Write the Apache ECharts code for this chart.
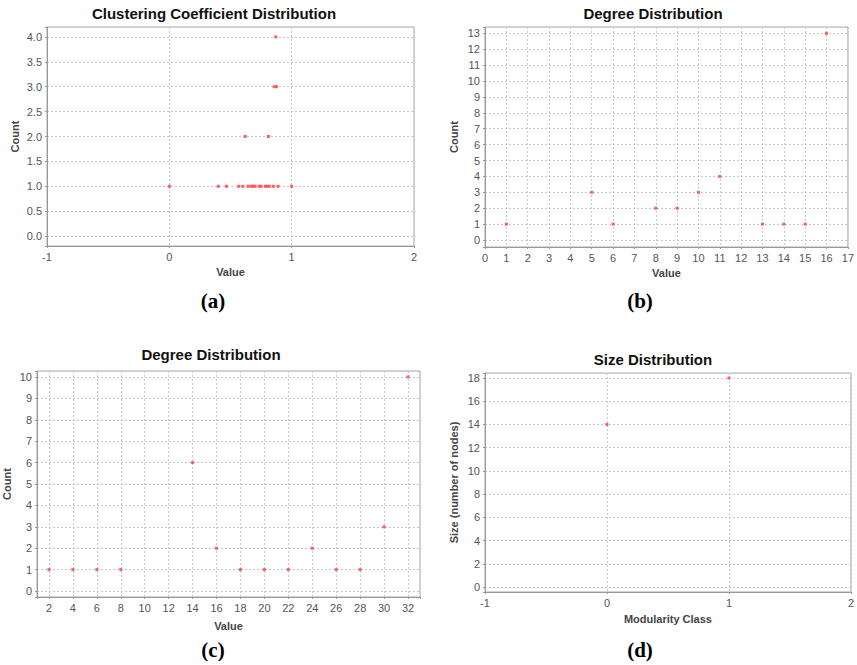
<!DOCTYPE html>
<html>
<head>
<meta charset="utf-8">
<script src="https://cdn.jsdelivr.net/npm/echarts@6/dist/echarts.min.js"></script>
<style>
  html, body { margin: 0; background: #fff; }
  #chart { width: 857px; height: 665px; }
</style>
</head>
<body>
<div id="chart"></div>
<script>
// (a) clustering coefficient distribution
const ccValues = [0, 0.40, 0.467, 0.567, 0.60, 0.643, 0.667, 0.683, 0.70, 0.733, 0.75, 0.786, 0.80, 0.818, 0.85, 0.889, 1.0,
  0.62, 0.81, 0.857, 0.875, 0.87]
const ccCounts = [1, 1, 1, 1, 1, 1, 1, 1, 1, 1, 1, 1, 1, 1, 1, 1, 1,
  2, 2, 3, 3, 4]
const ccValueTicks = ['-1', '0', '1', '2']
const ccCountTicks = ['0.0', '0.5', '1.0', '1.5', '2.0', '2.5', '3.0', '3.5', '4.0']

// (b) degree distribution
const degBValues = [1, 5, 6, 8, 9, 10, 11, 13, 14, 15, 16]
const degBCounts = [1, 3, 1, 2, 2, 3, 4, 1, 1, 1, 13]
const degBValueTicks = ['0', '1', '2', '3', '4', '5', '6', '7', '8', '9', '10', '11', '12', '13', '14', '15', '16', '17']
const degBCountTicks = ['0', '1', '2', '3', '4', '5', '6', '7', '8', '9', '10', '11', '12', '13']

// (c) degree distribution
const degCValues = [2, 4, 6, 8, 14, 16, 18, 20, 22, 24, 26, 28, 30, 32]
const degCCounts = [1, 1, 1, 1, 6, 2, 1, 1, 1, 2, 1, 1, 3, 10]
const degCValueTicks = ['2', '4', '6', '8', '10', '12', '14', '16', '18', '20', '22', '24', '26', '28', '30', '32']
const degCCountTicks = ['0', '1', '2', '3', '4', '5', '6', '7', '8', '9', '10']

// (d) size distribution
const modClasses = [0, 1]
const modSizes = [14, 18]
const modClassTicks = ['-1', '0', '1', '2']
const modSizeTicks = ['0', '2', '4', '6', '8', '10', '12', '14', '16', '18']

const chart = echarts.init(document.getElementById('chart'), null, { renderer: 'svg' })

const tickFont = 'Liberation Sans'
const axisColor = '#999'

const labelFrom = (ticks, digits) => (v) => {
  const s = digits ? v.toFixed(digits) : String(v)
  return ticks.includes(s) ? s : ''
}

const makeAxis = (gridIndex, o) => ({
  type: 'value',
  gridIndex,
  min: o.min,
  max: o.max,
  minInterval: o.step,
  maxInterval: o.step,
  splitNumber: o.splits,
  name: o.name,
  nameLocation: 'middle',
  nameGap: o.nameGap,
  nameTextStyle: { fontFamily: tickFont, fontSize: 11, fontWeight: 'bold', color: '#444' },
  axisLine: { show: true, onZero: false, lineStyle: { color: axisColor } },
  axisTick: { show: true, length: 2, lineStyle: { color: axisColor } },
  axisLabel: {
    fontFamily: tickFont, fontSize: 11, color: '#555', margin: 5,
    formatter: labelFrom(o.ticks, o.digits)
  },
  splitLine: { show: true, lineStyle: { color: '#c8c8c8', type: [2, 2], width: 1 } }
})

const makeGrid = (left, top, width, height) => ({
  left, top, width, height,
  show: true, borderColor: '#aaa', borderWidth: 1, backgroundColor: '#fff'
})

const dots = (xIndex, xs, ys) => ({
  type: 'scatter',
  xAxisIndex: xIndex,
  yAxisIndex: xIndex,
  symbol: 'rect',
  symbolSize: 3,
  itemStyle: { color: '#ff5050', opacity: 0.9 },
  data: xs.map((x, i) => [x, ys[i]])
})

const heading = (x, y, text) => ({
  type: 'text', x, y,
  style: { text, fontFamily: 'Liberation Sans', fontSize: 15, fontWeight: 'bold', fill: '#111', align: 'center', verticalAlign: 'middle' }
})

const panelTag = (x, y, text) => ({
  type: 'text', x, y,
  style: { text, fontFamily: 'Liberation Serif', fontSize: 21, fontWeight: 'bold', fill: '#000', align: 'center', verticalAlign: 'middle' }
})

const option = {
  animation: false,
  backgroundColor: '#fff',
  grid: [
    makeGrid(47, 27, 367, 219),
    makeGrid(485, 27, 367, 220),
    makeGrid(35, 371, 385, 226),
    makeGrid(485, 373, 367, 219)
  ],
  xAxis: [
    makeAxis(0, { min: -1, max: 2, step: 1, splits: 3, name: 'Value', nameGap: 20, ticks: ccValueTicks }),
    makeAxis(1, { min: 0, max: 17, step: 1, splits: 17, name: 'Value', nameGap: 20, ticks: degBValueTicks }),
    makeAxis(2, { min: 1, max: 33, step: 2, splits: 16, name: 'Value', nameGap: 23, ticks: degCValueTicks }),
    makeAxis(3, { min: -1, max: 2, step: 1, splits: 3, name: 'Modularity Class', nameGap: 21, ticks: modClassTicks })
  ],
  yAxis: [
    makeAxis(0, { min: -0.2, max: 4.2, step: 0.5, splits: 9, name: 'Count', nameGap: 27, ticks: ccCountTicks, digits: 1 }),
    makeAxis(1, { min: -0.44, max: 13.4, step: 1, splits: 14, name: 'Count', nameGap: 26, ticks: degBCountTicks }),
    makeAxis(2, { min: -0.28, max: 10.28, step: 1, splits: 10, name: 'Count', nameGap: 25, ticks: degCCountTicks }),
    makeAxis(3, { min: -0.43, max: 18.43, step: 2, splits: 9, name: 'Size (number of nodes)', nameGap: 26, ticks: modSizeTicks })
  ],
  series: [
    dots(0, ccValues, ccCounts),
    dots(1, degBValues, degBCounts),
    dots(2, degCValues, degCCounts),
    dots(3, modClasses, modSizes)
  ],
  graphic: [
    heading(214, 13, 'Clustering Coefficient Distribution'),
    heading(653, 13, 'Degree Distribution'),
    heading(211, 354, 'Degree Distribution'),
    heading(653, 359, 'Size Distribution'),
    panelTag(213, 301, '(a)'),
    panelTag(640, 301, '(b)'),
    panelTag(213, 650, '(c)'),
    panelTag(640, 650, '(d)')
  ]
}

chart.setOption(option)
</script>
</body>
</html>
